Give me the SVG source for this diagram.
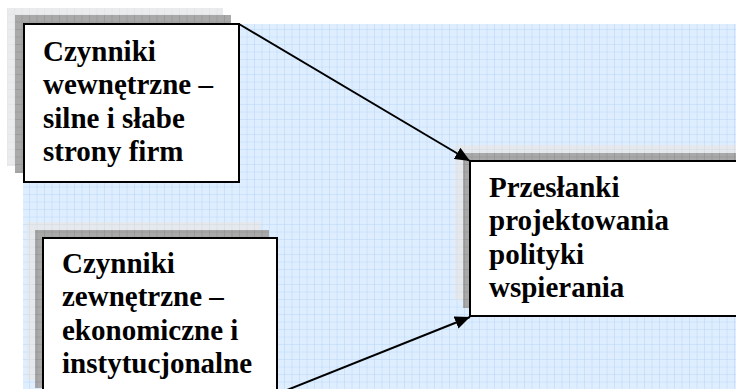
<svg xmlns="http://www.w3.org/2000/svg" width="736" height="389" viewBox="0 0 736 389">
  <defs>
    <!-- light blue drawing-paper grid -->
    <pattern id="grid-blue" width="7.5" height="7.5" patternUnits="userSpaceOnUse">
      <rect width="7.5" height="7.5" fill="#deeeff"/>
      <path d="M7.5 0V7.5M0 7.5H7.5" stroke="#b9d6f6" stroke-width="1" fill="none"/>
    </pattern>
    <!-- grid used inside the shadows -->
    <pattern id="grid-dark" width="7.5" height="7.5" patternUnits="userSpaceOnUse">
      <rect width="7.5" height="7.5" fill="#a9a9a9"/>
      <path d="M7.5 0V7.5M0 7.5H7.5" stroke="#8e8e8e" stroke-width="1" fill="none"/>
    </pattern>
    <pattern id="grid-light" width="7.5" height="7.5" patternUnits="userSpaceOnUse">
      <rect width="7.5" height="7.5" fill="#e6e8ea"/>
      <path d="M7.5 0V7.5M0 7.5H7.5" stroke="#d8dadc" stroke-width="1" fill="none"/>
    </pattern>
    <marker id="arrow" markerUnits="userSpaceOnUse" markerWidth="15" markerHeight="13" refX="15" refY="6.5" orient="auto">
      <path d="M0 0L15 6.5L0 13Z" fill="#000"/>
    </marker>
  </defs>
  <style>
    .shadow-far { fill: url(#grid-light); opacity: 0.85; }
    .shadow-near { fill: url(#grid-dark); }
    .box { fill: #ffffff; stroke: #000000; stroke-width: 2; }
    .label { font-family: "Liberation Serif", "DejaVu Serif", serif; font-weight: bold; font-size: 29px; fill: #000000; }
    .link { stroke: #000000; stroke-width: 2; fill: none; marker-end: url(#arrow); }
  </style>

  <rect width="736" height="389" fill="#ffffff"/>
  <rect x="23" y="24" width="713" height="365" fill="url(#grid-blue)"/>

  <g id="node-internal">
    <rect class="shadow-far" x="7" y="8" width="216" height="158"/>
    <rect class="shadow-near" x="15" y="15" width="216" height="158"/>
    <rect class="box" x="24" y="24" width="215" height="158"/>
    <text class="label" x="43" y="61">Czynniki</text>
    <text class="label" x="43" y="94">wewnętrzne –</text>
    <text class="label" x="43" y="128">silne i słabe</text>
    <text class="label" x="43" y="161">strony firm</text>
  </g>

  <g id="node-external">
    <rect class="shadow-far" x="27" y="222" width="234" height="158"/>
    <rect class="shadow-near" x="35" y="230" width="234" height="158"/>
    <rect class="box" x="43" y="238" width="234" height="156"/>
    <text class="label" x="62" y="273">Czynniki</text>
    <text class="label" x="62" y="306">zewnętrzne –</text>
    <text class="label" x="62" y="340">ekonomiczne i</text>
    <text class="label" x="62" y="373">instytucjonalne</text>
  </g>

  <g id="node-premises">
    <rect class="shadow-far" x="455" y="145" width="290" height="155"/>
    <rect class="shadow-near" x="463" y="153" width="290" height="155"/>
    <rect class="box" x="470" y="161" width="280" height="155"/>
    <text class="label" x="489" y="197">Przesłanki</text>
    <text class="label" x="489" y="230">projektowania</text>
    <text class="label" x="489" y="264">polityki</text>
    <text class="label" x="489" y="297">wspierania</text>
  </g>

  <g id="connectors">
    <line class="link" x1="239" y1="24" x2="470" y2="161"/>
    <line class="link" x1="277" y1="394" x2="470" y2="317"/>
  </g>
</svg>
